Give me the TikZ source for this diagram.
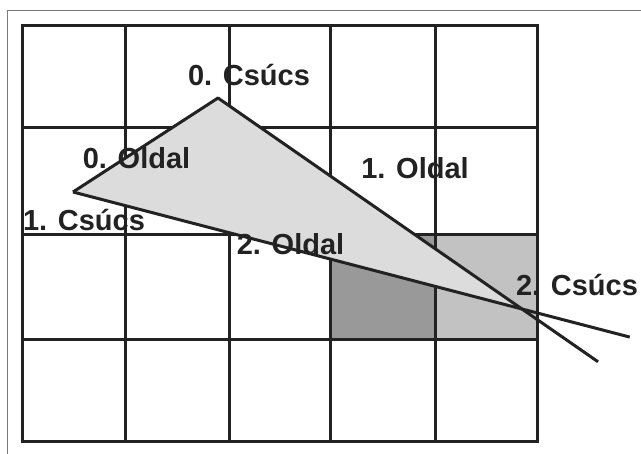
\documentclass[tikz,border=0pt]{standalone}
\usepackage{fontspec}
\setmainfont{Liberation Sans}
\usetikzlibrary{calc}
\definecolor{inkgray}{HTML}{222222}
\definecolor{framegray}{HTML}{7A7A7A}
\definecolor{darkcell}{HTML}{999999}
\definecolor{lightcell}{HTML}{C2C2C2}
\definecolor{trianglefill}{HTML}{DCDCDC}
\begin{document}
\begin{tikzpicture}[x=1pt,y=-1pt,
        gridline/.style={draw=inkgray,line width=3pt},
        edge/.style={draw=inkgray,line width=3pt,line join=round},
        tag/.style={inkgray,anchor=base,inner sep=0pt,font=\fontsize{29}{34}\selectfont\bfseries}]
    \useasboundingbox (0,0) rectangle (641,454);
    \fill[white] (0,0) rectangle (641,454);
    % outer frame
    \draw[framegray,line width=1pt] (7.3,454) -- (7.3,11) -- (641,11);

    % shaded cells
    \fill[darkcell] (330,235) rectangle (435,339.7);
    \fill[lightcell] (435,235) rectangle (537,339.7);

    % grid
    \foreach \x in {125,229,330,435}
        \draw[gridline] (\x,26) -- (\x,441.3);
    \foreach \y in {127.7,235,339.7}
        \draw[gridline] (22.7,\y) -- (537,\y);
    \draw[gridline] (22.7,26) rectangle (537,441.3);

    % triangle
    \coordinate (C0) at (218,98);
    \coordinate (C1) at (73,192);
    \coordinate (C2) at (522,309);
    \coordinate (EndA) at ($(C0)!1.25!(C2)$);
    \coordinate (EndB) at ($(C1)!1.24!(C2)$);
    \fill[trianglefill] (C0) -- (C1) -- (C2) -- cycle;
    \draw[edge] (C1) -- (C0) -- (EndA);
    \draw[edge] (C1) -- (EndB);

    % labels
    \node[tag] (csucs0) at (249,86) {0. Csúcs};
    \node[tag] (oldal0) at (136.5,169) {0. Oldal};
    \node[tag] (csucs1) at (84,231) {1. Csúcs};
    \node[tag] (oldal1) at (415,179) {1. Oldal};
    \node[tag] (oldal2) at (290.5,255) {2. Oldal};
    \node[tag] (csucs2) at (577,296) {2. Csúcs};
\end{tikzpicture}
\end{document}
